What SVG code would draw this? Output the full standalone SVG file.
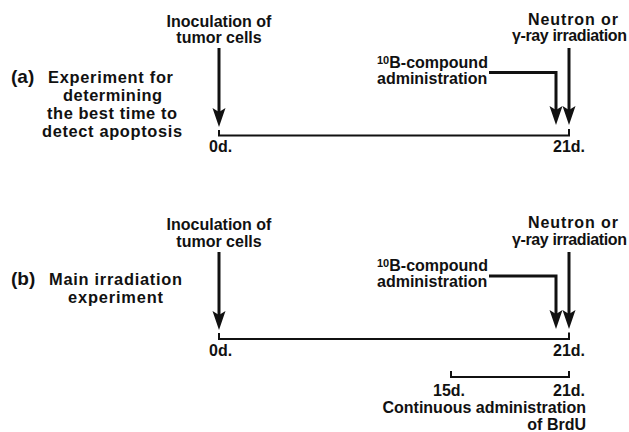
<svg xmlns="http://www.w3.org/2000/svg" width="629" height="432" viewBox="0 0 629 432">
  <defs>
    <style>
      text { font-family: "Liberation Sans", Arial, Helvetica, sans-serif; font-weight: bold; fill: #111; font-size: 16px; }
      .big { font-size: 16.4px; }
      .tag { font-size: 19px; }
      .mid { text-anchor: middle; }
      .end { text-anchor: end; }
      .sup { font-size: 11px; }
      .arrow { fill: none; stroke: #111; stroke-width: 3; marker-end: url(#ah); }
      .axis { fill: none; stroke: #111; stroke-width: 2; }
    </style>
    <marker id="ah" viewBox="0 -7 19 14" refX="9" refY="0" markerWidth="19" markerHeight="14" markerUnits="userSpaceOnUse" orient="auto">
      <path d="M0,-6.5 L19,0 L0,6.5 L4,0 Z" fill="#111"/>
    </marker>
  </defs>
  <rect width="629" height="432" fill="#fff"/>

  <g id="connectors">
    <!-- panel a -->
    <path class="arrow" d="M219,48 V117"/>
    <path class="arrow" d="M569,48 V115"/>
    <path class="arrow" d="M489,72.5 H556 V115"/>
    <path class="axis" d="M219,130 V135.5 H569 V129"/>
    <!-- panel b -->
    <path class="arrow" d="M219,252 V320"/>
    <path class="arrow" d="M569,252 V319"/>
    <path class="arrow" d="M489,276 H556 V319"/>
    <path class="axis" d="M219,333 V339 H569 V332.5"/>
    <path class="axis" d="M451,371 V377 H569 V371"/>
  </g>

  <g id="panel-a-label">
    <text class="tag" x="11" y="83">(a)</text>
    <text class="big" x="48" y="83" textLength="125">Experiment for</text>
    <text class="big" x="63" y="101" textLength="99">determining</text>
    <text class="big" x="47" y="119" textLength="130">the best time to</text>
    <text class="big" x="42" y="137" textLength="140">detect apoptosis</text>
  </g>
  <g id="a-inoculation">
    <text class="mid" x="219" y="27">Inoculation of</text>
    <text class="mid" x="219" y="43">tumor cells</text>
  </g>
  <g id="a-irradiation">
    <text x="528" y="25" textLength="90">Neutron or</text>
    <text x="512" y="41" textLength="115">γ-ray irradiation</text>
  </g>
  <g id="a-compound">
    <text x="377" y="68"><tspan class="sup" dy="-4">10</tspan><tspan dy="4">B-compound</tspan></text>
    <text x="377" y="84">administration</text>
  </g>
  <g id="a-day0"><text x="209" y="152">0d.</text></g>
  <g id="a-day21"><text class="end" x="585" y="152">21d.</text></g>

  <g id="panel-b-label">
    <text class="tag" x="11" y="285">(b)</text>
    <text class="big" x="49" y="285" textLength="133">Main irradiation</text>
    <text class="big" x="68" y="303" textLength="95">experiment</text>
  </g>
  <g id="b-inoculation">
    <text class="mid" x="219" y="230">Inoculation of</text>
    <text class="mid" x="219" y="247">tumor cells</text>
  </g>
  <g id="b-irradiation">
    <text x="528" y="228" textLength="90">Neutron or</text>
    <text x="512" y="245" textLength="115">γ-ray irradiation</text>
  </g>
  <g id="b-compound">
    <text x="377" y="271"><tspan class="sup" dy="-4">10</tspan><tspan dy="4">B-compound</tspan></text>
    <text x="377" y="287">administration</text>
  </g>
  <g id="b-day0"><text x="209" y="356">0d.</text></g>
  <g id="b-day21"><text class="end" x="585" y="356">21d.</text></g>
  <g id="b-brdu">
    <text x="433" y="396">15d.</text>
    <text class="end" x="585" y="396">21d.</text>
    <text class="end" x="586" y="413">Continuous administration</text>
    <text class="end" x="586" y="430">of BrdU</text>
  </g>
</svg>
